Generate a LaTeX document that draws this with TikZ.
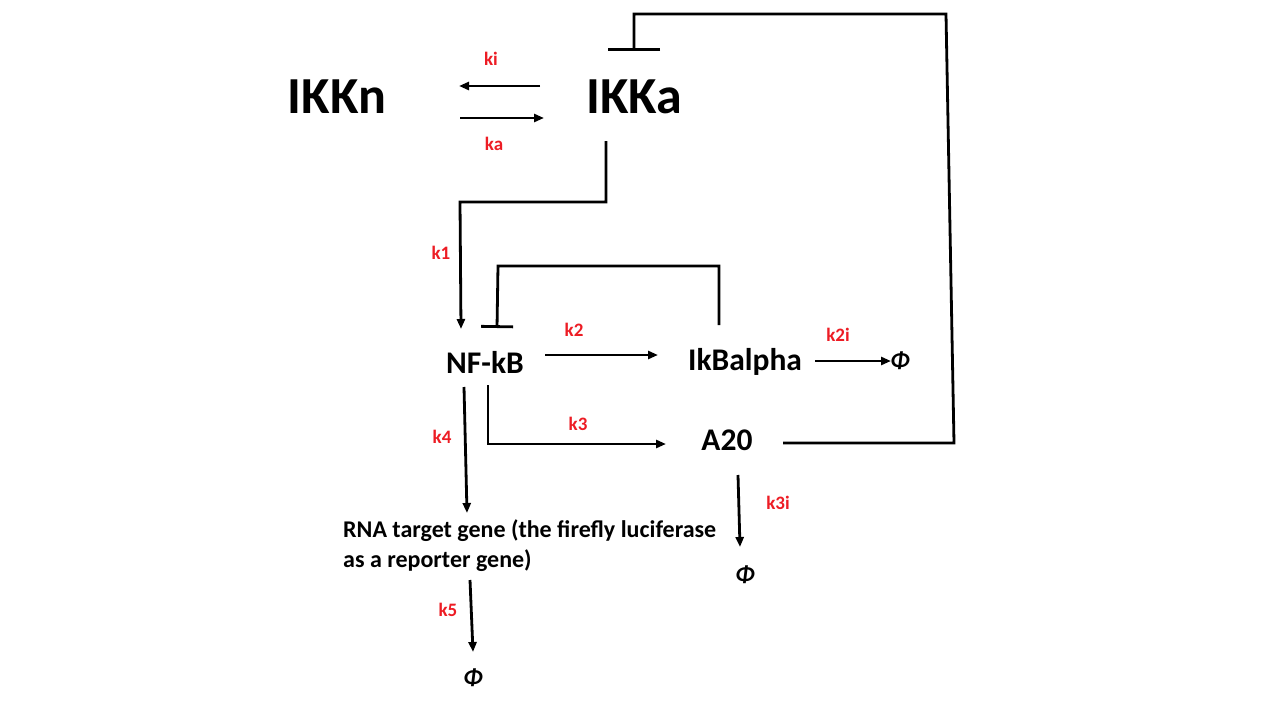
\documentclass[tikz,border=0pt]{standalone}
\usepackage{fontspec}
\setmainfont{Carlito}
\usetikzlibrary{arrows.meta}
\definecolor{kred}{RGB}{237,28,36}
\tikzset{
  conn/.style={line width=2.8pt, draw=black},
  arr/.style={conn, -{Triangle[length=10pt,width=8pt]}},
  inh/.style={conn, -{Bar[width=#1,line width=2.8pt]}},
  big/.style={font=\fontsize{52}{60}\selectfont\bfseries, inner sep=0pt},
  spec/.style={font=\fontsize{31.5}{36}\selectfont\bfseries, inner sep=0pt},
  rate/.style={font=\fontsize{19}{22}\selectfont\bfseries, text=kred, inner sep=0pt},
  sink/.style={font=\fontsize{24}{28}\selectfont\bfseries\itshape, inner sep=0pt},
  rna/.style={font=\fontsize{24}{30}\selectfont\bfseries, inner sep=0pt, align=left, anchor=north west}
}
\begin{document}
\begin{tikzpicture}[x=1pt,y=-1pt]
\useasboundingbox[fill=white] (0,0) rectangle (1280,720);
% species
\node[big] (ikkn) at (337,97) {IKKn};
\node[big] (ikka) at (634,97) {IKKa};
\node[spec] (nfkb) at (485,362) {NF-kB};
\node[spec] (ikb) at (745,362) {IkBalpha};
\node[spec] (a20) at (727,440) {A20};
\node[rna] (rna) at (343,519) {RNA target gene (the firefly luciferase\\as a reporter gene)};
\node[sink] (phi1) at (900,361) {Φ};
\node[sink] (phi2) at (745,575) {Φ};
\node[sink] (phi3) at (473,678) {Φ};
% rate labels
\node[rate] (lki) at (491,59) {ki};
\node[rate] (lka) at (494,144) {ka};
\node[rate] (lk1) at (441,253) {k1};
\node[rate] (lk2) at (574,330) {k2};
\node[rate] (lk2i) at (838,335) {k2i};
\node[rate] (lk3) at (578,424) {k3};
\node[rate] (lk4) at (442,437) {k4};
\node[rate] (lk3i) at (778,503) {k3i};
\node[rate] (lk5) at (448,610) {k5};
% connector end points
\coordinate (kiS) at (540,86);  \coordinate (kiE) at (459,86);
\coordinate (kaS) at (460,118); \coordinate (kaE) at (544,118);
\coordinate (k1S) at (606,141); \coordinate (k1E) at (461,329);
\coordinate (k2S) at (545,355); \coordinate (k2E) at (658,355);
\coordinate (k2iS) at (815,361); \coordinate (k2iE) at (891,361);
\coordinate (k3S) at (488,385); \coordinate (k3E) at (666,444);
\coordinate (k4S) at (464,387); \coordinate (k4E) at (467,513);
\coordinate (k3iS) at (738,475); \coordinate (k3iE) at (740,547);
\coordinate (k5S) at (470,580); \coordinate (k5E) at (473,652);
\coordinate (inhAS) at (719,325); \coordinate (inhAE) at (497,328);
\coordinate (inhBS) at (783,443); \coordinate (inhBE) at (634,51);
% connectors
\draw[arr] (kiS) -- (kiE);
\draw[arr] (kaS) -- (kaE);
\draw[arr] (k1S) -- (606,202) -- (460,202) -- (k1E);
\draw[arr] (k2S) -- (k2E);
\draw[arr] (k2iS) -- (k2iE);
\draw[arr] (k3S) -- (488,444) -- (k3E);
\draw[arr] (k4S) -- (k4E);
\draw[arr] (k3iS) -- (k3iE);
\draw[arr] (k5S) -- (k5E);
\draw[inh=32pt] (inhAS) -- (719,266) -- (498,266) -- (inhAE);
\draw[inh=52pt] (inhBS) -- (954,443) -- (946,14) -- (634,14) -- (inhBE);
\end{tikzpicture}
\end{document}
